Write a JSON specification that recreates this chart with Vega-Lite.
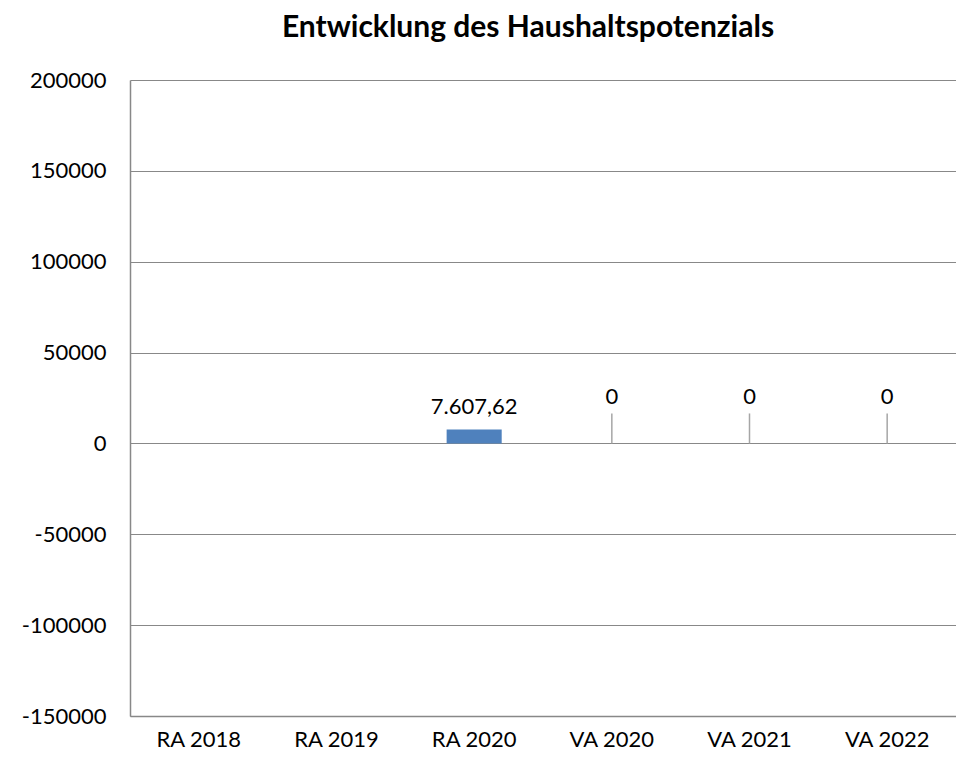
{
  "$schema": "https://vega.github.io/schema/vega-lite/v6.json",
  "width": 826,
  "height": 636,
  "autosize": {"type": "none"},
  "padding": {"left": 130, "top": 80, "right": 0, "bottom": 47},
  "background": "white",
  "config": {
    "view": {"stroke": null},
    "locale": {"number": {"decimal": ",", "thousands": ".", "grouping": [3], "currency": ["", " €"], "minus": "-"}},
    "font": "Lato"
  },
  "title": {
    "text": "Entwicklung des Haushaltspotenzials",
    "font": "Lato",
    "fontSize": 30,
    "fontWeight": "bold",
    "color": "#000000",
    "anchor": "middle",
    "dx": -15,
    "offset": 26
  },
  "data": {
    "values": [
      {"jahr": "RA 2018", "wert": null},
      {"jahr": "RA 2019", "wert": null},
      {"jahr": "RA 2020", "wert": 7607.62},
      {"jahr": "VA 2020", "wert": 0},
      {"jahr": "VA 2021", "wert": 0},
      {"jahr": "VA 2022", "wert": 0}
    ]
  },
  "encoding": {
    "x": {
      "field": "jahr",
      "type": "nominal",
      "scale": {
        "domain": ["RA 2018", "RA 2019", "RA 2020", "VA 2020", "VA 2021", "VA 2022"],
        "paddingInner": 0.6,
        "paddingOuter": 0.3
      },
      "axis": {
        "title": null,
        "labelAngle": 0,
        "labelFont": "Lato",
        "labelFontSize": 22,
        "labelColor": "#000000",
        "labelPadding": 13,
        "ticks": false,
        "domain": true,
        "domainColor": "#888888",
        "domainWidth": 1.5,
        "grid": false
      }
    }
  },
  "layer": [
    {
      "mark": {"type": "bar", "color": "#4F81BD"},
      "encoding": {
        "y": {
          "field": "wert",
          "type": "quantitative",
          "scale": {"domain": [-150000, 200000], "nice": false},
          "axis": {
            "title": null,
            "values": [-150000, -100000, -50000, 0, 50000, 100000, 150000, 200000],
            "format": "d",
            "labelFont": "Lato",
            "labelFontSize": 22,
            "labelColor": "#000000",
            "labelPadding": 24,
            "ticks": false,
            "domain": true,
            "domainColor": "#888888",
            "domainWidth": 1.5,
            "grid": true,
            "gridColor": "#888888",
            "gridWidth": 1.2
          }
        }
      }
    },
    {
      "transform": [{"filter": "datum.wert > 0"}],
      "mark": {"type": "text", "dy": -23, "baseline": "middle", "font": "Lato", "fontSize": 22, "color": "#000000"},
      "encoding": {
        "y": {"field": "wert", "type": "quantitative"},
        "text": {"field": "wert", "type": "quantitative", "format": ",.2f"}
      }
    },
    {
      "transform": [{"filter": "datum.wert === 0"}],
      "mark": {"type": "rule", "color": "#A6A6A6", "strokeWidth": 1.5},
      "encoding": {
        "y": {"field": "wert", "type": "quantitative"},
        "y2": {"datum": 16500}
      }
    },
    {
      "transform": [{"filter": "datum.wert === 0"}],
      "mark": {"type": "text", "dy": -46, "baseline": "middle", "font": "Lato", "fontSize": 22, "color": "#000000"},
      "encoding": {
        "y": {"field": "wert", "type": "quantitative"},
        "text": {"field": "wert", "type": "quantitative", "format": "d"}
      }
    }
  ]
}
